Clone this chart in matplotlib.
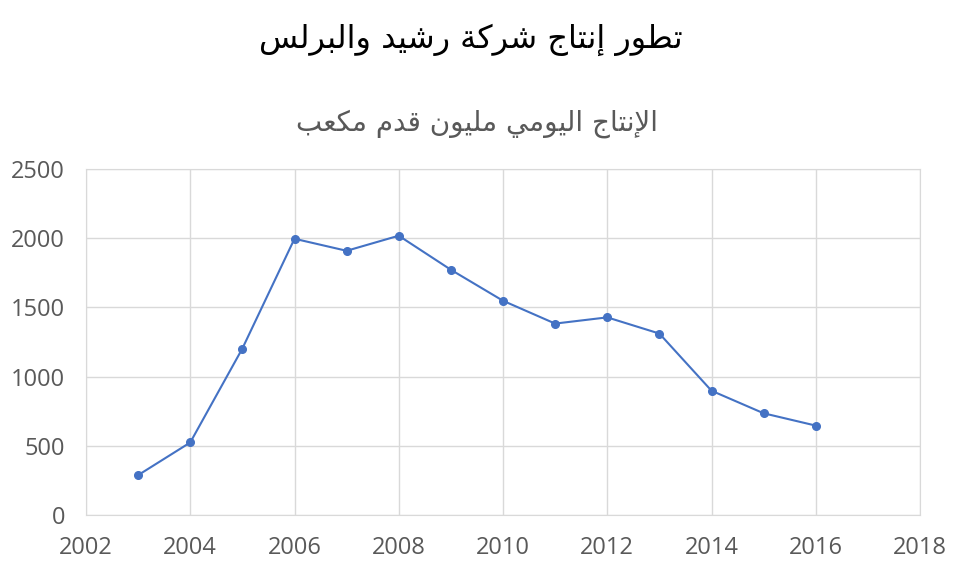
import matplotlib
matplotlib.use('Agg')
from matplotlib import pyplot as plt

# data
years = [2003, 2004, 2005, 2006, 2007, 2008, 2009, 2010, 2011, 2012, 2013, 2014, 2015, 2016]
production = [288, 524, 1203, 1996, 1909, 2018, 1772, 1548, 1383, 1428, 1311, 898, 735, 646]
x_ticks = [2002, 2004, 2006, 2008, 2010, 2012, 2014, 2016, 2018]
y_ticks = [0, 500, 1000, 1500, 2000, 2500]

title_text = 'تطور إنتاج شركة رشيد والبرلس'
subtitle_text = 'الإنتاج اليومي مليون قدم مكعب'

# Arabic presentation forms: isolated, final, initial, medial
FORMS = {
    'ا': (0xFE8D, 0xFE8E), 'إ': (0xFE87, 0xFE88),
    'ب': (0xFE8F, 0xFE90, 0xFE91, 0xFE92), 'ة': (0xFE93, 0xFE94),
    'ت': (0xFE95, 0xFE96, 0xFE97, 0xFE98), 'ج': (0xFE9D, 0xFE9E, 0xFE9F, 0xFEA0),
    'د': (0xFEA9, 0xFEAA), 'ر': (0xFEAD, 0xFEAE),
    'س': (0xFEB1, 0xFEB2, 0xFEB3, 0xFEB4), 'ش': (0xFEB5, 0xFEB6, 0xFEB7, 0xFEB8),
    'ط': (0xFEC1, 0xFEC2, 0xFEC3, 0xFEC4), 'ع': (0xFEC9, 0xFECA, 0xFECB, 0xFECC),
    'ق': (0xFED5, 0xFED6, 0xFED7, 0xFED8), 'ك': (0xFED9, 0xFEDA, 0xFEDB, 0xFEDC),
    'ل': (0xFEDD, 0xFEDE, 0xFEDF, 0xFEE0), 'م': (0xFEE1, 0xFEE2, 0xFEE3, 0xFEE4),
    'ن': (0xFEE5, 0xFEE6, 0xFEE7, 0xFEE8), 'و': (0xFEED, 0xFEEE),
    'ي': (0xFEF1, 0xFEF2, 0xFEF3, 0xFEF4),
    'لا': (0xFEFB, 0xFEFC), 'لإ': (0xFEF9, 0xFEFA),
}


def shape_arabic(text):
    # merge lam-alef first
    units = []
    i = 0
    while i < len(text):
        if text[i] == 'ل' and i + 1 < len(text) and text[i + 1] in 'اإ':
            units.append(text[i:i + 2])
            i += 2
        else:
            units.append(text[i])
            i += 1
    out = []
    for k, u in enumerate(units):
        if u not in FORMS:
            out.append(u)
            continue
        f = FORMS[u]
        prev_joins = k > 0 and units[k - 1] in FORMS and len(FORMS[units[k - 1]]) == 4
        next_joins = len(f) == 4 and k + 1 < len(units) and units[k + 1] in FORMS
        if prev_joins and next_joins:
            code = f[3]
        elif prev_joins:
            code = f[1]
        elif next_joins:
            code = f[2]
        else:
            code = f[0]
        out.append(chr(code))
    return ''.join(out)[::-1]


fig = plt.figure(figsize=(9.6, 5.69), dpi=100)
ax = fig.add_axes([86 / 960, 1 - 515 / 569, (920 - 86) / 960, (515 - 169) / 569])

ax.plot(years, production, color='#4472C4', linewidth=1.5, marker='o', markersize=5.5)

ax.set_xlim(2002, 2018)
ax.set_ylim(0, 2500)
ax.set_xticks(x_ticks)
ax.set_yticks(y_ticks)
ax.grid(True, color='#d9d9d9', linewidth=1)
ax.set_axisbelow(True)
for s in ax.spines.values():
    s.set_color('#d9d9d9')
ax.tick_params(length=0, labelsize=17, labelcolor='#595959')
ax.tick_params(axis='x', pad=15)
ax.tick_params(axis='y', pad=15)
for lbl in ax.get_xticklabels() + ax.get_yticklabels():
    lbl.set_family(['Open Sans', 'DejaVu Sans'])

fig.text(0.49, 1 - 40 / 569, shape_arabic(title_text), ha='center', va='center',
         fontsize=23, color='black', family='DejaVu Sans')
fig.text(0.497, 1 - 124 / 569, shape_arabic(subtitle_text), ha='center', va='center',
         fontsize=20, color='#595959', family='DejaVu Sans')

fig.savefig('out.png', dpi=100)
